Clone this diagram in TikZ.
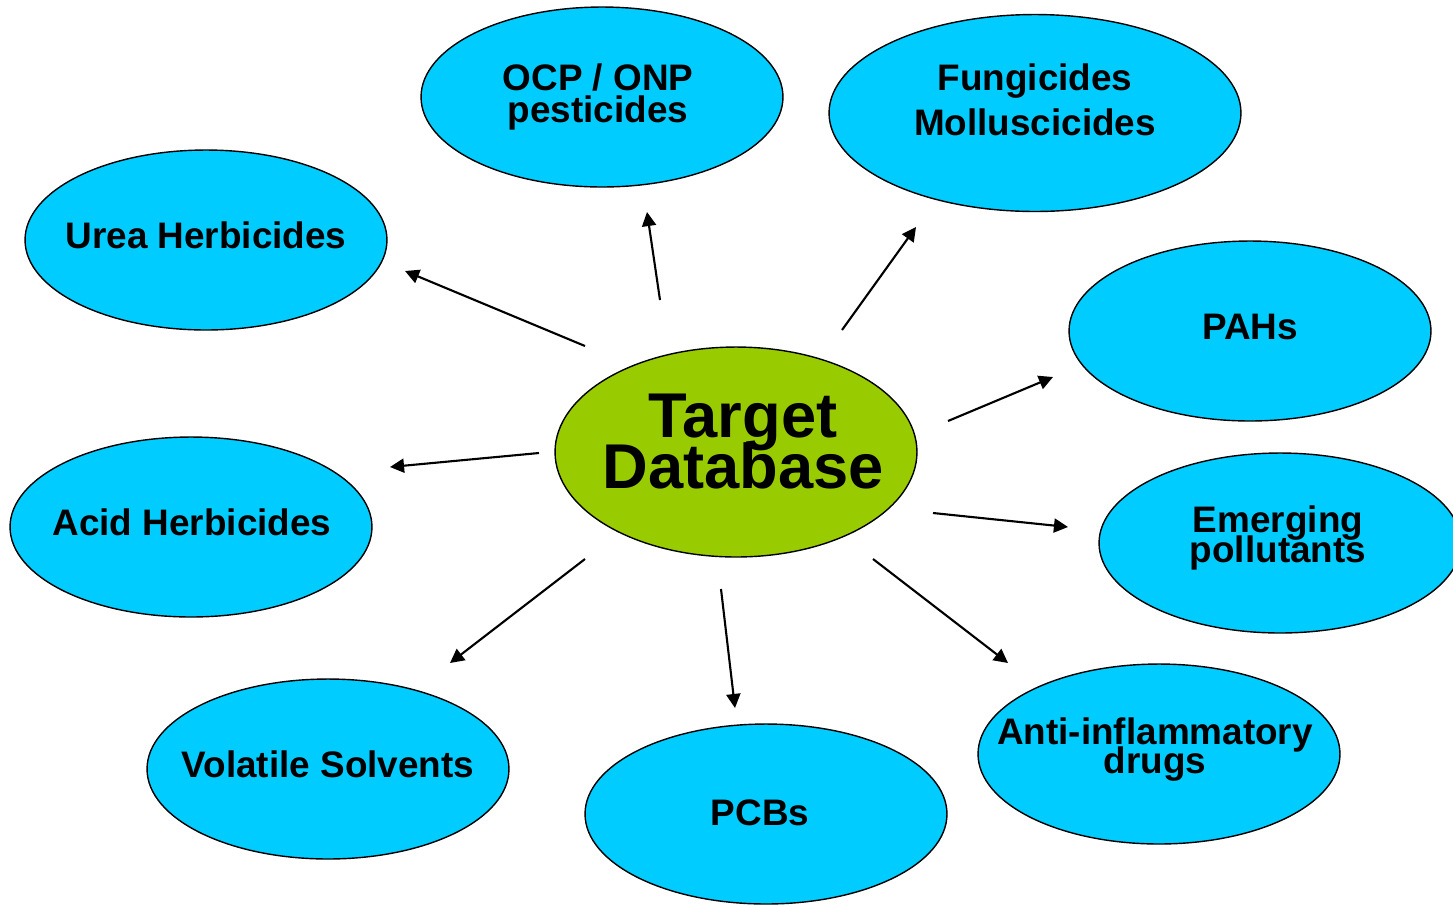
\documentclass[tikz,border=0pt]{standalone}
\usepackage{fontspec}
\setmainfont{Liberation Sans}
\usetikzlibrary{shapes.geometric, arrows.meta}
\definecolor{bubble}{RGB}{0,204,255}
\definecolor{core}{RGB}{153,204,0}

\begin{document}
\begin{tikzpicture}[
      x=0.02cm, y=-0.02cm,
      blob/.style={ellipse, draw=black, line width=0.8pt, fill=bubble,
                   minimum width=7.24cm, minimum height=3.6cm, inner sep=0pt},
      txt/.style={anchor=base, align=center, inner sep=0pt,
                  font=\fontsize{21}{18}\selectfont\bfseries,
                  execute at begin node={\lineskiplimit=-40pt}},
      arr/.style={-{Triangle[length=8pt,width=8pt]}, line width=1.2pt}
    ]
    \useasboundingbox (0,0) rectangle (1453,904);
    \clip (0,0) rectangle (1453,904);
    % centre bubble
    \node[blob, fill=core, minimum height=4.2cm] (db) at (736,452) {};
    \node[txt, font=\fontsize{36}{29}\selectfont\bfseries] (dbt) at (743,488) {Target\\Database};
    % outer bubbles
    \node[blob] (ocp) at (602,97) {};
    \node[txt, font=\fontsize{21}{18}\selectfont\bfseries] (ocpt) at (598,122) {OCP / ONP\\pesticides};
    \node[blob, minimum width=8.24cm, minimum height=3.94cm] (fun) at (1035,113) {};
    \node[txt, font=\fontsize{21}{25.5}\selectfont\bfseries] (funt) at (1035,135) {Fungicides\\Molluscicides};
    \node[blob] (urea) at (206,240) {};
    \node[txt] (ureat) at (206,248) {Urea Herbicides};
    \node[blob] (pah) at (1250,331) {};
    \node[txt] (paht) at (1250,339) {PAHs};
    \node[blob] (acid) at (191,527) {};
    \node[txt] (acidt) at (192,535) {Acid Herbicides};
    \node[blob] (emg) at (1280,543) {};
    \node[txt, font=\fontsize{21}{17}\selectfont\bfseries] (emgt) at (1278,562) {Emerging\\pollutants};
    \node[blob] (anti) at (1159,754) {};
    \node[txt, font=\fontsize{21}{16}\selectfont\bfseries] (antit) at (1155,773) {Anti-inflammatory\\drugs};
    \node[blob] (vol) at (328,769) {};
    \node[txt] (volt) at (328,777) {Volatile Solvents};
    \node[blob] (pcb) at (766,814) {};
    \node[txt] (pcbt) at (760,825) {PCBs};
    % arrow ends
    \coordinate (urea-s) at (585,346);  \coordinate (urea-e) at (405,271);
    \coordinate (ocp-s)  at (660,300);  \coordinate (ocp-e)  at (647,212);
    \coordinate (fun-s)  at (842,330);  \coordinate (fun-e)  at (916,227);
    \coordinate (pah-s)  at (948,421);  \coordinate (pah-e)  at (1053,377);
    \coordinate (emg-s)  at (933,513);  \coordinate (emg-e)  at (1068,527);
    \coordinate (anti-s) at (873,559);  \coordinate (anti-e) at (1008,663);
    \coordinate (pcb-s)  at (721,589);  \coordinate (pcb-e)  at (735,708);
    \coordinate (vol-s)  at (585,559);  \coordinate (vol-e)  at (450,663);
    \coordinate (acid-s) at (539,453);  \coordinate (acid-e) at (390,467);
    \draw[arr] (urea-s) -- (urea-e);
    \draw[arr] (ocp-s) -- (ocp-e);
    \draw[arr] (fun-s) -- (fun-e);
    \draw[arr] (pah-s) -- (pah-e);
    \draw[arr] (emg-s) -- (emg-e);
    \draw[arr] (anti-s) -- (anti-e);
    \draw[arr] (pcb-s) -- (pcb-e);
    \draw[arr] (vol-s) -- (vol-e);
    \draw[arr] (acid-s) -- (acid-e);
  \end{tikzpicture}
\end{document}
